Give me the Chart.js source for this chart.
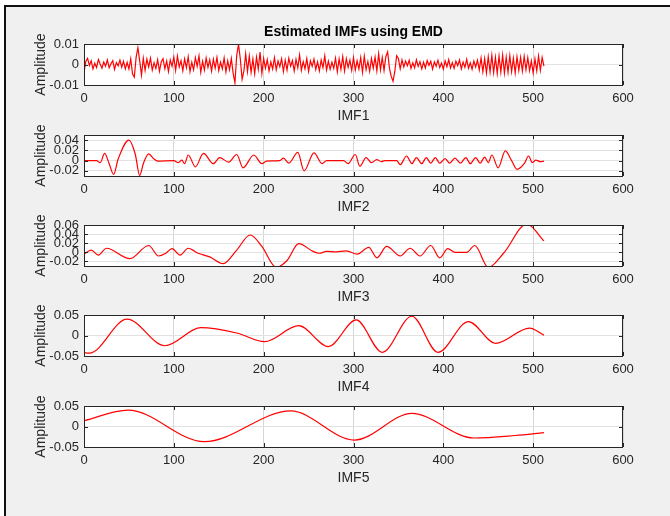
<!DOCTYPE html>
<html>
<head>
<meta charset="utf-8">
<script src="https://cdn.jsdelivr.net/npm/chart.js@4.4.0/dist/chart.umd.min.js"></script>
<style>
  body { margin: 0; background: #fff; width: 670px; height: 516px; overflow: hidden; }
  #frame { position: absolute; left: 4px; top: 5px; width: 666px; height: 511px; background: #f0f0f0; border-top: 2px solid #111; border-left: 2px solid #111; }
  canvas { position: absolute; left: 0; }
</style>
</head>
<body>
<div id="frame"></div>
<canvas id="imf1" width="670" height="125" style="top:0px"></canvas>
<canvas id="imf2" width="670" height="111" style="top:105px"></canvas>
<canvas id="imf3" width="670" height="111" style="top:195px"></canvas>
<canvas id="imf4" width="670" height="111" style="top:285px"></canvas>
<canvas id="imf5" width="670" height="111" style="top:376px"></canvas>
<script>
//-----DATOS
const titulo = 'Estimated IMFs using EMD'
const nombres = ['IMF1', 'IMF2', 'IMF3', 'IMF4', 'IMF5']
const xTicks = [0, 100, 200, 300, 400, 500, 600]

//IMF1: one value every 2 samples (0..512)
const imf1Y = [
  -0.004, 0.0015, 0.003, -0.0005, 0.0018, -0.0022, 0.0006, -0.0015, 0.0024, 0.0002,
  -0.0018, 0.0012, -0.0008, 0.0022, -0.0016, 0.0004, 0.0019, -0.0024, 0.0009, -0.0006,
  0.0021, -0.0013, 0.0016, -0.0021, 0.0011,
  -0.0022, 0.0028, -0.0045, -0.0062, 0.0035, 0.0082, 0.0018, -0.0052, 0.0031, -0.0028,
  0.0026, -0.0012, 0.0031, -0.0027, 0.0009, -0.0019, 0.0024, -0.0033, 0.0014, 0.0028,
  -0.0021, 0.0017, -0.0034, 0.0022, -0.0008, 0.0036, -0.0029, 0.0041, -0.0012, 0.0019,
  -0.0031, 0.0027, -0.0016, 0.0038, -0.0035, 0.0011, -0.0026, 0.0033, -0.0009, 0.0042,
  -0.0038, 0.0016, -0.0027, 0.0031, -0.0014, 0.0023, -0.0032, 0.0026, -0.0018, 0.0034,
  -0.0029, 0.0012, -0.0021, 0.0032, -0.0036, 0.0018, -0.0025, 0.0029,
  -0.0042, -0.009, 0.0045, 0.0098, 0.0028, -0.0072, -0.0031, 0.0052, -0.0034,
  0.0041, -0.0038, 0.0027, -0.0045, 0.0036, -0.0022, 0.0061, -0.0043,
  0.0029, -0.0018, 0.0024, -0.0031, 0.0012, -0.0022, 0.0033, -0.0026, 0.0017, -0.0011,
  0.0028, -0.0034, 0.0021, -0.0027, 0.0031, -0.0008, 0.0019, -0.0032, 0.0025, -0.0016,
  0.0047, -0.0028, 0.0014, -0.0021, 0.0029, -0.0033, 0.0018, -0.0009, 0.0026, -0.0024,
  0.0013, -0.0031, 0.0022, -0.0015, 0.0042, -0.0027, 0.0016, -0.0023, 0.0011, -0.0019,
  0.0031, -0.0036, 0.0027, -0.0024, 0.0039, -0.0032, 0.0028, -0.0014, 0.0021, -0.0029,
  0.0033, -0.0027, 0.0018, -0.0022, 0.0034, -0.0038, 0.0041, -0.0025, 0.0015, -0.0033,
  0.0029, -0.0018, 0.0036, -0.0031, 0.0052, -0.0026, 0.0034, -0.0029, 0.0038,
  0.0062, -0.0018, -0.0058, -0.0082, -0.0034, 0.0043, 0.0029, -0.0021,
  0.0022, -0.0012, 0.0017, -0.0006, 0.0021, -0.0019, 0.0008, -0.0016, 0.0023, -0.0009,
  0.0014, -0.0021, 0.0011, -0.0017, 0.0019, -0.0004, 0.0016, -0.0023, 0.0013, -0.0008,
  0.0021, -0.0015, 0.0007, -0.0022, 0.0018, -0.0011, 0.0024, -0.0017, 0.0009, -0.0019,
  0.0016, -0.0006, 0.0022, -0.0021, 0.0012, -0.0014, 0.0025, -0.0018, 0.0008, -0.0023,
  0.0017, -0.0012, 0.0021,
  -0.0026, 0.0032, -0.0035, 0.0029, -0.0041, 0.0038, -0.0036, 0.0044, -0.0039, 0.0035,
  -0.0043, 0.0041, -0.0037, 0.0046, -0.0042, 0.0036, -0.0038, 0.0043, -0.0035, 0.0031,
  -0.0041, 0.0037, -0.0028, 0.0034, -0.0032, 0.0039, -0.0026, 0.0033, -0.0029, 0.0018,
  -0.0042, 0.0027, -0.0031, 0.0041, -0.0028, 0.0034, -0.0008
]

//IMF2
const imf2X = [0, 14, 18, 23, 28, 33, 38, 50, 57, 62, 66, 72, 78, 82, 100, 105, 109, 112, 116, 124,
  133, 144, 151, 161, 170, 177, 189, 198, 203, 218, 222, 228, 238, 245, 256, 265, 270, 289, 294, 302,
  307, 314, 320, 326, 331, 335, 348, 352, 359, 365, 370, 376, 381, 386, 391, 396, 402, 407, 413, 419,
  425, 430, 436, 441, 446, 450, 454, 461, 469, 476, 482, 490, 495, 499, 503, 508, 512]
const imf2Y = [0, 0, -0.004, 0.014, -0.006, -0.027, 0.003, 0.04, 0.013, -0.029, -0.006, 0.013, 0.003, -0.001, 0, -0.004, 0.001, -0.006, 0.011, -0.012,
  0.014, -0.006, 0.006, -0.003, 0.012, -0.014, 0.011, -0.006, -0.001, 0, 0.005, -0.005, 0.016, -0.02, 0.015, -0.006, 0, 0, -0.006, 0.012,
  -0.011, 0.006, -0.004, 0.002, -0.002, 0, 0, -0.008, 0.009, -0.006, 0.006, -0.006, 0.006, -0.005, 0.006, -0.005, 0.004, -0.005, 0.005, -0.005,
  0.006, -0.006, 0.006, -0.005, 0.007, -0.004, 0.011, -0.014, 0.019, 0, -0.017, -0.006, 0.009, -0.004, 0.001, -0.002, -0.001]

//IMF3
const imf3X = [0, 8, 16, 25, 51, 72, 83, 91, 98, 107, 116, 127, 140, 155, 170, 185, 198, 214, 226, 239,
  255, 262, 270, 281, 292, 304, 317, 326, 337, 352, 363, 374, 386, 396, 405, 413, 426, 435, 450, 467, 493, 512]
const imf3Y = [-0.004, 0.005, -0.006, 0.009, -0.014, 0.015, -0.008, -0.002, 0.008, -0.006, 0.009, -0.002, -0.01, -0.025, 0.005, 0.038, 0.013, -0.033, -0.018, 0.019,
  0.002, -0.002, 0.002, 0.001, 0.003, -0.004, 0.011, -0.012, 0.013, -0.008, 0.009, -0.008, 0.015, -0.012, 0.008, 0, 0, 0.015, -0.033, -0.002, 0.062, 0.025]

//IMF4
const imf4X = [0, 6, 48, 90, 130, 170, 201, 239, 272, 303, 332, 365, 394, 428, 458, 496, 512]
const imf4Y = [-0.042, -0.043, 0.04, -0.025, 0.019, 0.006, -0.015, 0.024, -0.027, 0.038, -0.041, 0.047, -0.041, 0.034, -0.019, 0.018, 0.001]

//IMF5
const imf5X = [0, 49, 134, 230, 301, 365, 434, 480, 512]
const imf5Y = [0.014, 0.04, -0.037, 0.038, -0.033, 0.032, -0.028, -0.022, -0.015]

//Rangos y ticks del eje Y
const yRangos = [[-0.01, 0.01], [-0.03, 0.05], [-0.03, 0.06], [-0.05, 0.05], [-0.05, 0.05]]
const yTicks = [
  [-0.01, 0, 0.01],
  [-0.02, 0, 0.02, 0.04],
  [-0.02, 0, 0.02, 0.04, 0.06],
  [-0.05, 0, 0.05],
  [-0.05, 0, 0.05]
]

//-----ESTILO
const fuente = 'Liberation Sans, Arial, Helvetica, sans-serif'
const gris = '#262626'

//fondo blanco, marco + ticks hacia adentro (estilo MATLAB)
const cajaPlugin = {
  id: 'caja',
  beforeDraw(chart) {
    const { ctx, chartArea: a } = chart
    ctx.save()
    ctx.fillStyle = '#ffffff'
    ctx.fillRect(a.left, a.top, a.right - a.left, a.bottom - a.top)
    ctx.restore()
  },
  afterDraw(chart) {
    const { ctx, chartArea: a, scales } = chart
    ctx.save()
    ctx.strokeStyle = gris
    ctx.lineWidth = 1
    ctx.beginPath()
    scales.x.ticks.forEach(t => {
      const px = Math.round(scales.x.getPixelForValue(t.value)) + 0.5
      ctx.moveTo(px, a.bottom); ctx.lineTo(px, a.bottom - 4)
      ctx.moveTo(px, a.top); ctx.lineTo(px, a.top + 4)
    })
    scales.y.ticks.forEach(t => {
      const py = Math.round(scales.y.getPixelForValue(t.value)) + 0.5
      ctx.moveTo(a.left, py); ctx.lineTo(a.left + 4, py)
      ctx.moveTo(a.right, py); ctx.lineTo(a.right - 4, py)
    })
    ctx.stroke()
    ctx.strokeRect(Math.round(a.left) + 0.5, Math.round(a.top) + 0.5, Math.round(a.right - a.left) - 1, Math.round(a.bottom - a.top))
    ctx.restore()
  }
}

function grafico(id, puntos, n, suave, conTitulo) {
  const config = {
    type: 'line',
    data: {
      datasets: [{
        data: puntos,
        borderColor: '#ff0000',
        borderWidth: 1.2,
        pointRadius: 0,
        fill: false,
        tension: suave ? 0.4 : 0,
        cubicInterpolationMode: suave ? 'monotone' : 'default'
      }]
    },
    options: {
      responsive: false,
      animation: false,
      devicePixelRatio: 1,
      layout: { padding: { left: 32, right: 47, top: conTitulo ? 23.6 : 30, bottom: 0 } },
      plugins: {
        legend: { display: false },
        tooltip: { enabled: false },
        title: {
          display: conTitulo,
          text: titulo,
          fullSize: false,
          color: '#000',
          font: { family: fuente, size: 14, weight: 'bold' },
          padding: { top: 0, bottom: 3.6 }
        }
      },
      scales: {
        x: {
          type: 'linear',
          min: 0,
          max: 600,
          afterBuildTicks: axis => { axis.ticks = xTicks.map(v => ({ value: v })) },
          afterFit: axis => { axis.height = 40 },
          grid: { color: '#d6d6d6', drawTicks: false },
          border: { display: false },
          ticks: { color: gris, padding: 6, font: { family: fuente, size: 13 }, maxRotation: 0, autoSkip: false, callback: v => String(v) },
          title: { display: true, text: nombres[n], color: gris, font: { family: fuente, size: 14 }, padding: { top: 2, bottom: 0 } }
        },
        y: {
          min: yRangos[n][0],
          max: yRangos[n][1],
          afterBuildTicks: axis => { axis.ticks = yTicks[n].map(v => ({ value: v })) },
          afterFit: axis => { axis.width = 52 },
          grid: { color: '#e2e2e2', drawTicks: false },
          border: { display: false },
          ticks: { color: gris, padding: 5, font: { family: fuente, size: 13 }, autoSkip: false, callback: v => String(v) },
          title: { display: true, text: 'Amplitude', color: gris, font: { family: fuente, size: 14 }, padding: { top: 1, bottom: 0 } }
        }
      }
    },
    plugins: [cajaPlugin]
  }
  return new Chart(document.getElementById(id), config)
}

//-----GRÁFICOS
grafico('imf1', imf1Y.map((y, i) => ({ x: i * 2, y: y })), 0, false, true)
grafico('imf2', imf2X.map((x, i) => ({ x: x, y: imf2Y[i] })), 1, true, false)
grafico('imf3', imf3X.map((x, i) => ({ x: x, y: imf3Y[i] })), 2, true, false)
grafico('imf4', imf4X.map((x, i) => ({ x: x, y: imf4Y[i] })), 3, true, false)
grafico('imf5', imf5X.map((x, i) => ({ x: x, y: imf5Y[i] })), 4, true, false)
</script>
</body>
</html>
